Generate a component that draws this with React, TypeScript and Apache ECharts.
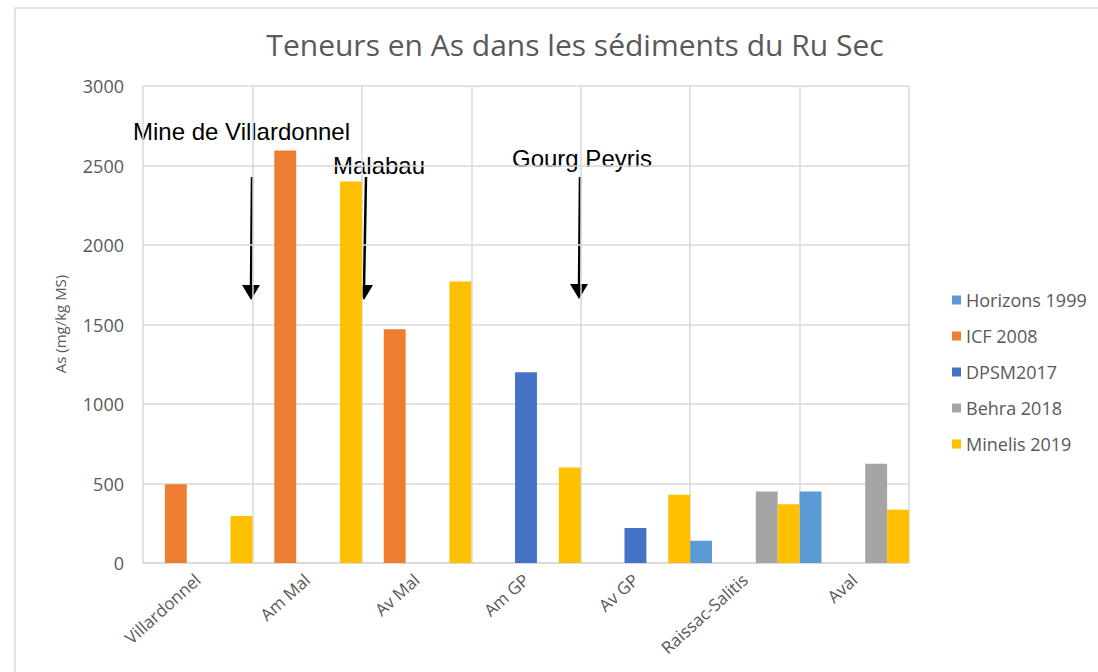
import React, { useEffect, useRef } from "react";
import * as echarts from "echarts";

const categories = ["Villardonnel", "Am Mal", "Av Mal", "Am GP", "Av GP", "Raissac-Salitis", "Aval"];
const seriesNames = ["Horizons 1999", "ICF 2008", "DPSM2017", "Behra 2018", "Minelis 2019"];
const horizons1999 = [null, null, null, null, null, 140, 450];
const icf2008 = [495, 2595, 1470, null, null, null, null];
const dpsm2017 = [null, null, null, 1200, 220, null, null];
const behra2018 = [null, null, null, null, null, 450, 625];
const minelis2019 = [295, 2400, 1770, 600, 430, 370, 335];
const colors = ["#5B9BD5", "#ED7D31", "#4472C4", "#A5A5A5", "#FFC000"];
const yTicks = { min: 0, max: 3000, interval: 500 };

const annotations = [
  { label: "Mine de Villardonnel", tx: 133, ty: 131, ax1: 252, ay1: 177, ax2: 251, ay2: 300 },
  { label: "Malabau", tx: 333, ty: 165, ax1: 366, ay1: 177, ax2: 364, ay2: 300 },
  { label: "Gourg Peyris", tx: 512, ty: 158, ax1: 580, ay1: 177, ax2: 579, ay2: 299 },
];

const FONT = "'Open Sans', 'Noto Sans', sans-serif";

export default function App() {
  const ref = useRef<HTMLDivElement>(null);
  useEffect(() => {
    const chart = echarts.init(ref.current!, undefined, { renderer: "svg" });
    const data = [horizons1999, icf2008, dpsm2017, behra2018, minelis2019];
    const graphics: any[] = [
      {
        type: "rect",
        shape: { x: 15, y: 8, width: 1200, height: 800 },
        style: { fill: "none", stroke: "#D9D9D9", lineWidth: 1.5 },
        silent: true,
      },
      {
        type: "text",
        x: 60,
        y: 324,
        rotation: Math.PI / 2,
        style: {
          text: "As (mg/kg MS)",
          fill: "#595959",
          font: "15px " + FONT,
          textAlign: "center",
          textVerticalAlign: "middle",
        },
      },
    ];
    annotations.forEach((a) => {
      graphics.push({
        type: "text",
        x: a.tx,
        y: a.ty,
        style: {
          text: a.label,
          fill: "#000",
          font: "24px 'Liberation Sans', Arial, sans-serif",
          textVerticalAlign: "middle",
        },
      });
      graphics.push({
        type: "line",
        shape: { x1: a.ax1, y1: a.ay1, x2: a.ax2, y2: a.ay2 - 12 },
        style: { stroke: "#000", lineWidth: 2.5 },
      });
      graphics.push({
        type: "polygon",
        shape: {
          points: [
            [a.ax2 - 9, a.ay2 - 15],
            [a.ax2 + 9, a.ay2 - 15],
            [a.ax2, a.ay2],
          ],
        },
        style: { fill: "#000" },
      });
    });
    chart.setOption({
      animation: false,
      color: colors,
      title: {
        text: "Teneurs en As dans les sédiments du Ru Sec",
        left: 570,
        textAlign: "center",
        top: 24,
        textStyle: { fontFamily: FONT, fontSize: 30, fontWeight: "normal", color: "#595959" },
      },
      grid: { left: 143, right: 189, top: 86, bottom: 109, containLabel: false },
      legend: {
        orient: "vertical",
        left: 947,
        top: 286,
        itemWidth: 9,
        itemHeight: 9,
        itemGap: 18,
        icon: "rect",
        textStyle: { fontFamily: FONT, fontSize: 18, color: "#595959" },
        data: seriesNames,
      },
      xAxis: {
        type: "category",
        data: categories,
        axisTick: { show: false },
        axisLine: { lineStyle: { color: "#D9D9D9", width: 1.5 } },
        splitLine: { show: true, lineStyle: { color: "#D9D9D9", width: 1.5 } },
        axisLabel: {
          rotate: 42,
          fontFamily: FONT,
          fontSize: 17,
          color: "#595959",
          margin: 14,
          interval: 0,
        },
      },
      yAxis: {
        type: "value",
        min: yTicks.min,
        max: yTicks.max,
        interval: yTicks.interval,
        axisLine: { show: false },
        axisTick: { show: false },
        splitLine: { lineStyle: { color: "#D9D9D9", width: 1.5 } },
        axisLabel: {
          fontFamily: FONT,
          fontSize: 18,
          color: "#595959",
          margin: 19,
          formatter: (v: number) => String(v),
        },
      },
      series: seriesNames.map((n, i) => ({
        name: n,
        type: "bar",
        data: data[i],
        barGap: "0%",
        barCategoryGap: "0%",
      })),
      graphic: graphics,
    });
    return () => chart.dispose();
  }, []);
  return (
    <div
      ref={ref}
      style={{ position: "fixed", left: 0, top: 0, width: 1098, height: 672, background: "#fff" }}
    />
  );
}
